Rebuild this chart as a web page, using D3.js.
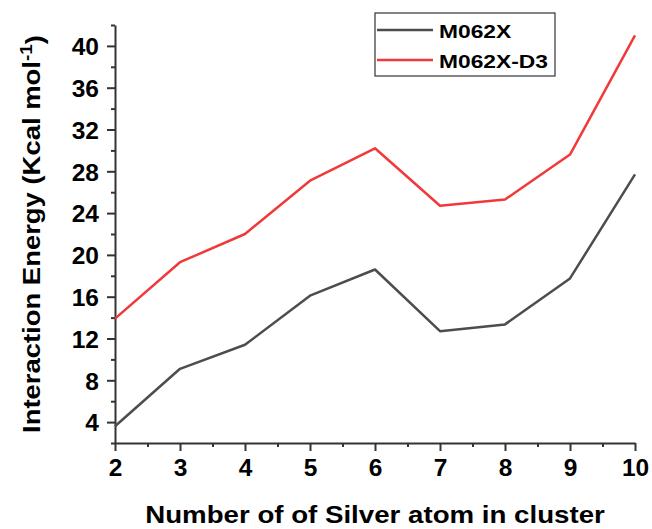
<!DOCTYPE html>
<html>
<head>
<meta charset="utf-8">
<script src="https://cdn.jsdelivr.net/npm/d3@7"></script>
<style>
  body { margin: 0; background: #fff; }
  svg text { font-family: "Liberation Sans", Arial, sans-serif; font-weight: bold; fill: #000; }
  .axis path, .axis line { stroke: #333; stroke-width: 2; }
  .axis text { font-size: 24.5px; }
</style>
</head>
<body>
<svg id="chart"></svg>
<script>
const atoms = [2, 3, 4, 5, 6, 7, 8, 9, 10];
const m062x = [3.6, 9.1, 11.4, 16.1, 18.6, 12.7, 13.35, 17.75, 27.7];
const m062xD3 = [13.9, 19.3, 22.0, 27.1, 30.2, 24.7, 25.3, 29.6, 41.0];
const yTicks = [4, 8, 12, 16, 20, 24, 28, 32, 36, 40];

const seriesList = [
  { name: "M062X", values: m062x, color: "#4d4d4d" },
  { name: "M062X-D3", values: m062xD3, color: "#f0393b" }
];

const svgWidth = 652, svgHeight = 529;
const margin = { top: 25, right: 17, bottom: 86, left: 115 };
const width = svgWidth - margin.left - margin.right;
const height = svgHeight - margin.top - margin.bottom;

const svg = d3.select("#chart")
  .attr("width", svgWidth)
  .attr("height", svgHeight)
  .append("g")
  .attr("transform", `translate(${margin.left},${margin.top})`);

const xScale = d3.scaleLinear().domain([2, 10]).range([0, width]);
const yScale = d3.scaleLinear().domain([2, 42]).range([height, 0]);

// minor ticks
svg.append("g")
  .attr("class", "axis")
  .attr("transform", `translate(0,${height})`)
  .call(d3.axisBottom(xScale).tickValues(d3.range(2.5, 10, 1)).tickSize(4).tickFormat(""))
  .select(".domain").remove();

svg.append("g")
  .attr("class", "axis")
  .call(d3.axisLeft(yScale).tickValues(d3.range(2, 43, 2).filter(v => v % 4 !== 0)).tickSize(4).tickFormat(""))
  .select(".domain").remove();

// main axes
const xAxis = svg.append("g")
  .attr("class", "axis")
  .attr("transform", `translate(0,${height})`)
  .call(d3.axisBottom(xScale).tickValues(atoms).tickSize(8).tickSizeOuter(0).tickPadding(8).tickFormat(d3.format("d")));

const yAxis = svg.append("g")
  .attr("class", "axis")
  .call(d3.axisLeft(yScale).tickValues(yTicks).tickSize(8).tickSizeOuter(0).tickPadding(8));
yAxis.selectAll("text").attr("dy", "0.36em");

svg.selectAll(".axis").attr("font-family", null).attr("font-size", null);

const line = d3.line()
  .x((d, i) => xScale(atoms[i]))
  .y(d => yScale(d));

seriesList.forEach(s => {
  svg.append("path")
    .datum(s.values)
    .attr("fill", "none")
    .attr("stroke", s.color)
    .attr("stroke-width", 2.5)
    .attr("stroke-linejoin", "round")
    .attr("d", line);
});

// legend
const legend = svg.append("g")
  .attr("transform", `translate(${375 - margin.left},${13 - margin.top})`);

legend.append("rect")
  .attr("width", 180)
  .attr("height", 63)
  .attr("fill", "#fff")
  .attr("stroke", "#333")
  .attr("stroke-width", 1.2);

seriesList.forEach((s, i) => {
  const y = 17 + i * 30;
  legend.append("line")
    .attr("x1", 2).attr("x2", 58)
    .attr("y1", y).attr("y2", y)
    .attr("stroke", s.color)
    .attr("stroke-width", 2.5);
  legend.append("text")
    .attr("transform", `translate(64,${y + 7.5}) scale(1.2,1)`)
    .style("font-size", "19px")
    .text(s.name);
});

// axis titles (the source font runs wider than Arial, so stretch along the text)
svg.append("text")
  .attr("transform", `translate(${width / 2},${height + 80}) scale(1.13,1)`)
  .attr("text-anchor", "middle")
  .style("font-size", "24.5px")
  .text("Number of of Silver atom in cluster");

const yTitle = svg.append("text")
  .attr("transform", `translate(${-margin.left + 40},${height / 2}) rotate(-90) scale(1.12,1)`)
  .attr("text-anchor", "middle")
  .style("font-size", "24.5px");
yTitle.append("tspan").text("Interaction Energy (Kcal mol");
yTitle.append("tspan").attr("dy", "-0.45em").style("font-size", "17px").text("-1");
yTitle.append("tspan").attr("dy", "0.45em").text(")");
</script>
</body>
</html>
